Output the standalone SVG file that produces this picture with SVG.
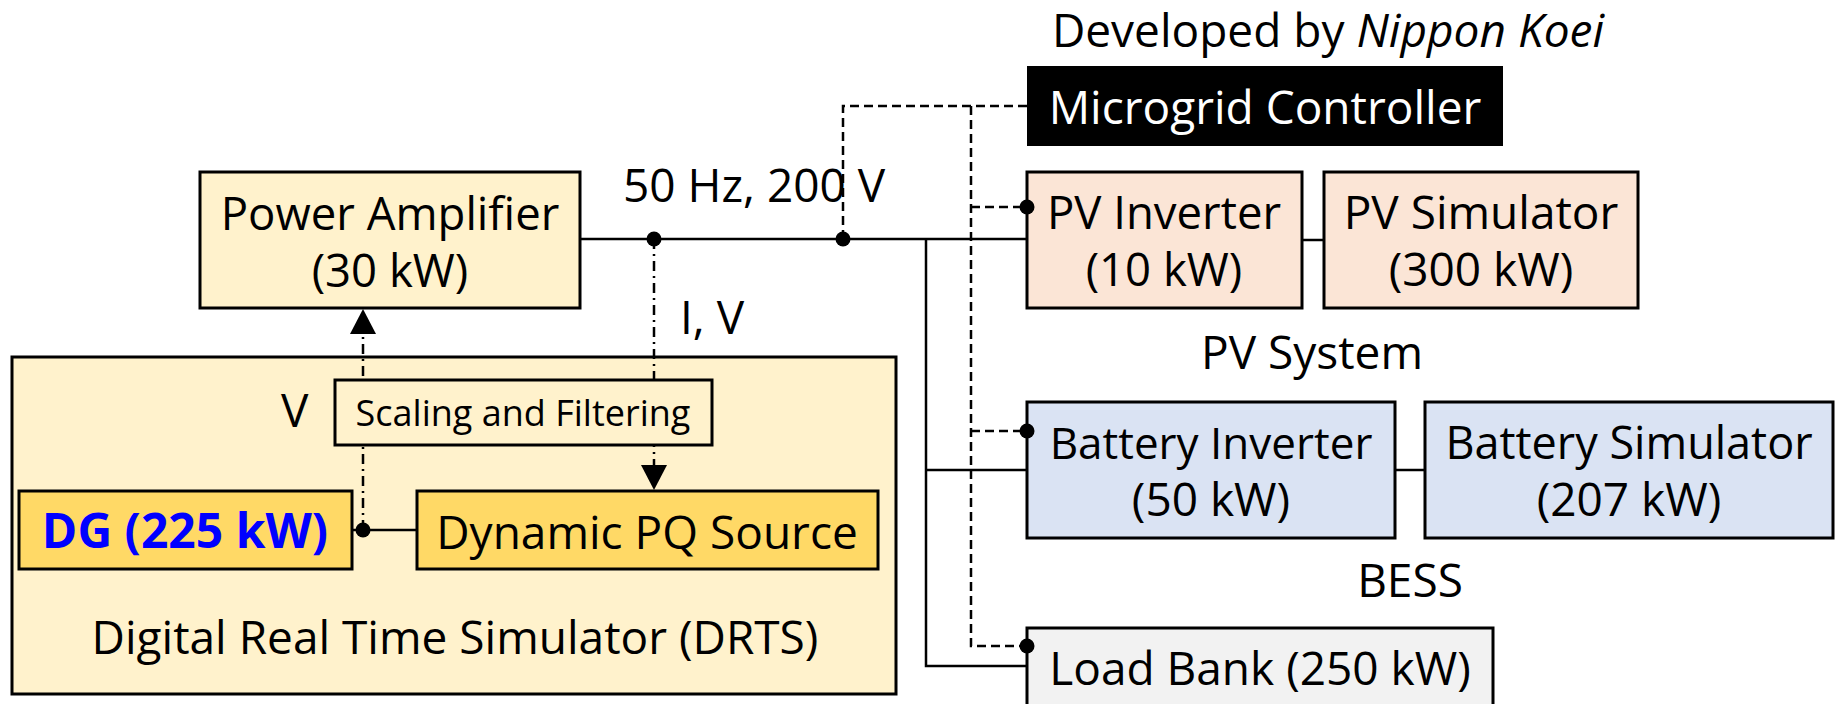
<svg xmlns="http://www.w3.org/2000/svg" width="1835" height="704" viewBox="0 0 1835 704">
<defs>
<style>
text{font-family:"Open Sans","Noto Sans","DejaVu Sans",sans-serif;fill:#000;}
.t{font-size:46px;text-anchor:middle;}
.s{font-size:36px;text-anchor:middle;}
.box{stroke:#000;stroke-width:3;}
.yl{fill:#FFF2CC;}
.yd{fill:#FFD966;}
.pv{fill:#FBE5D6;}
.bt{fill:#DAE3F3;}
.lb{fill:#F2F2F2;}
.ln{fill:none;stroke:#000;stroke-width:2.5;}
.da{fill:none;stroke:#000;stroke-width:2.5;stroke-dasharray:9 5;}
.dd{fill:none;stroke:#000;stroke-width:2.5;stroke-dasharray:10 5 2 5;}
.dot{fill:#000;}
</style>
</defs>
<rect width="1835" height="704" fill="#fff"/>

<g id="drts">
<rect class="box yl" x="12" y="357" width="884" height="337"/>
<text class="t" x="455" y="654">Digital Real Time Simulator (DRTS)</text>
</g>

<g id="power-amplifier">
<rect class="box yl" x="200" y="172" width="380" height="136"/>
<text class="t" style="font-size:45.5px"><tspan x="390" y="230">Power Amplifier</tspan><tspan x="390" y="287">(30 kW)</tspan></text>
</g>

<g id="dg">
<rect class="box yd" x="19" y="491" width="333" height="78"/>
<text x="185" y="548" style="font-size:48px;font-weight:bold;text-anchor:middle;fill:#0000FF">DG (225 kW)</text>
</g>

<g id="dynamic-pq">
<rect class="box yd" x="417" y="491" width="461" height="78"/>
<text class="t" x="647" y="549">Dynamic PQ Source</text>
</g>

<g id="microgrid-controller">
<rect x="1027" y="66" width="476" height="80" fill="#000"/>
<text class="t" x="1265" y="124" style="fill:#fff">Microgrid Controller</text>
</g>

<g id="pv-inverter">
<rect class="box pv" x="1027" y="172" width="275" height="136"/>
<text class="t" style="font-size:45.5px"><tspan x="1164" y="229">PV Inverter</tspan><tspan x="1164" y="286">(10 kW)</tspan></text>
</g>

<g id="pv-simulator">
<rect class="box pv" x="1324" y="172" width="314" height="136"/>
<text class="t"><tspan x="1481" y="229">PV Simulator</tspan><tspan x="1481" y="286">(300 kW)</tspan></text>
</g>

<g id="battery-inverter">
<rect class="box bt" x="1027" y="402" width="368" height="136"/>
<text class="t" style="font-size:44px"><tspan x="1211" y="459">Battery Inverter</tspan><tspan x="1211" y="516" style="font-size:46px">(50 kW)</tspan></text>
</g>

<g id="battery-simulator">
<rect class="box bt" x="1425" y="402" width="408" height="136"/>
<text class="t" style="font-size:45px"><tspan x="1629" y="459">Battery Simulator</tspan><tspan x="1629" y="516" style="font-size:46px">(207 kW)</tspan></text>
</g>

<g id="load-bank">
<rect class="box lb" x="1027" y="628" width="466" height="90"/>
<text class="t" x="1260" y="685">Load Bank (250 kW)</text>
</g>

<g id="labels">
<text class="t" x="1328" y="47">Developed by <tspan font-style="italic">Nippon Koei</tspan></text>
<text class="t" x="623" y="202" style="text-anchor:start">50 Hz, 200 V</text>
<text class="t" x="680" y="334" style="text-anchor:start">I, V</text>
<text class="t" x="281" y="427" style="text-anchor:start">V</text>
<text class="t" x="1312" y="369">PV System</text>
<text class="t" x="1410" y="597">BESS</text>
</g>

<g id="connectors">
<path class="ln" d="M580,239 H1027"/>
<path class="ln" d="M926,239 V666 H1027"/>
<path class="ln" d="M926,470 H1027"/>
<path class="ln" d="M1302,240 H1324"/>
<path class="ln" d="M1395,470 H1425"/>
<path class="ln" d="M352,530 H417"/>
<path class="da" d="M1027,106 H843 V239"/>
<path class="da" d="M971,106 V646 H1027"/>
<path class="da" d="M971,207 H1027"/>
<path class="da" d="M971,431 H1027"/>
<path class="dd" d="M363,530 V320"/>
<path class="dd" d="M654,239 V478"/>
<path d="M363,309 L350,334 L376,334 z" class="dot"/>
<path d="M654,490 L641,465 L667,465 z" class="dot"/>
<circle class="dot" cx="654" cy="239" r="7.5"/>
<circle class="dot" cx="843" cy="239" r="7.5"/>
<circle class="dot" cx="363" cy="530" r="7.5"/>
<circle class="dot" cx="1027" cy="207" r="7.5"/>
<circle class="dot" cx="1027" cy="431" r="7.5"/>
<circle class="dot" cx="1027" cy="646" r="7.5"/>
</g>

<g id="scaling">
<rect class="box yl" x="335" y="380" width="377" height="65"/>
<text class="s" x="523" y="426">Scaling and Filtering</text>
</g>
</svg>
